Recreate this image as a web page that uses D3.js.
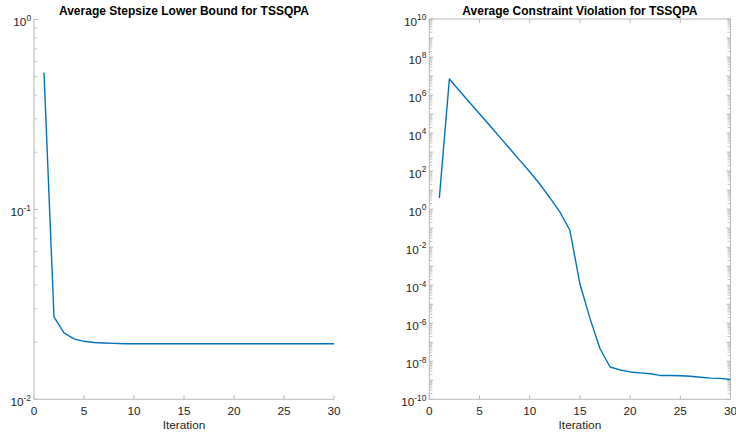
<!DOCTYPE html>
<html><head><meta charset="utf-8">
<script src="https://cdn.jsdelivr.net/npm/d3@7"></script>
<style>
html,body{margin:0;padding:0;background:#fff;}
text{font-family:"Liberation Sans",Arial,Helvetica,sans-serif;}
</style></head>
<body><svg id="c" width="736" height="434"></svg>
<script>
const iterations = [1,2,3,4,5,6,7,8,9,10,11,12,13,14,15,16,17,18,19,20,21,22,23,24,25,26,27,28,29,30];
const stepsizeLB = [0.525,0.0272,0.0224,0.0208,0.0202,0.0199,0.0198,0.0197,0.0196,0.0196,
  0.0196,0.0196,0.0196,0.0196,0.0196,0.0196,0.0196,0.0196,0.0196,0.0196,
  0.0196,0.0196,0.0196,0.0196,0.0196,0.0196,0.0196,0.0196,0.0196,0.0196];
const violation = [3.9,7e6,1.7e6,4.2e5,1.05e5,2.6e4,6.3e3,1.55e3,380,93,
  21,4.0,0.72,0.078,1.2e-4,1.8e-6,4.7e-8,5.0e-9,3.5e-9,2.75e-9,
  2.45e-9,2.2e-9,1.8e-9,1.78e-9,1.74e-9,1.62e-9,1.45e-9,1.3e-9,1.26e-9,1.1e-9];
const xTicks = [0,5,10,15,20,25,30];
const leftYTicks = [-2,-1,0];          // exponents
const rightYTicks = [-10,-8,-6,-4,-2,0,2,4,6,8,10];
const titles = ["Average Stepsize Lower Bound for TSSQPA","Average Constraint Violation for TSSQPA"];
const xLabel = "Iteration";

const svg = d3.select("#c");
const axisCol = "#b8b8b8", textCol = "#262626", lineCol = "#0072BD";
const fs = 11.8;

function panel(o){
  const g = svg.append("g");
  const x = d3.scaleLinear().domain([0,30]).range([o.left,o.right]);
  const y = d3.scaleLog().domain([Math.pow(10,o.yMin),Math.pow(10,o.yMax)]).range([o.bottom,o.top]);
  const minor=[];
  for(let e=o.yMin;e<o.yMax;e++) for(let k=2;k<=9;k++) minor.push(k*Math.pow(10,e));
  const majors=[]; for(let e=o.yMin;e<=o.yMax;e++) majors.push(Math.pow(10,e));
  const sides = o.box ? [o.left,o.right] : [o.left];
  sides.forEach(sx=>{
    const dir = sx===o.left?1:-1;
    g.selectAll(null).data(minor).enter().append("line")
      .attr("x1",sx).attr("x2",sx+dir*3).attr("y1",d=>y(d)).attr("y2",d=>y(d))
      .attr("stroke",axisCol).attr("stroke-width",0.8);
    g.selectAll(null).data(majors).enter().append("line")
      .attr("x1",sx).attr("x2",sx+dir*4).attr("y1",d=>y(d)).attr("y2",d=>y(d))
      .attr("stroke",axisCol).attr("stroke-width",1);
  });
  const xs = o.box ? [o.bottom,o.top] : [o.bottom];
  xs.forEach(sy=>{
    const dir = sy===o.bottom?-1:1;
    g.selectAll(null).data(xTicks).enter().append("line")
      .attr("x1",d=>x(d)).attr("x2",d=>x(d)).attr("y1",sy).attr("y2",sy+dir*4)
      .attr("stroke",axisCol).attr("stroke-width",1);
  });
  g.append("line").attr("x1",o.left).attr("x2",o.left).attr("y1",o.top).attr("y2",o.bottom).attr("stroke",axisCol);
  g.append("line").attr("x1",o.left).attr("x2",o.right).attr("y1",o.bottom).attr("y2",o.bottom).attr("stroke",axisCol);
  if(o.box){
    g.append("line").attr("x1",o.right).attr("x2",o.right).attr("y1",o.top).attr("y2",o.bottom).attr("stroke",axisCol);
    g.append("line").attr("x1",o.left).attr("x2",o.right).attr("y1",o.top).attr("y2",o.top).attr("stroke",axisCol);
  }
  g.selectAll(null).data(xTicks).enter().append("text")
    .attr("x",d=>x(d)).attr("y",o.bottom+16).attr("text-anchor","middle")
    .attr("font-size",fs).attr("fill",textCol).text(d=>d);
  o.labels.forEach(e=>{
    const t = g.append("text").attr("x",o.left-3).attr("y",y(Math.pow(10,e))+6.8)
      .attr("text-anchor","end").attr("font-size",fs).attr("fill",textCol);
    t.append("tspan").text("10");
    t.append("tspan").attr("dy",-5.5).attr("font-size",8.3).text(String(e));
  });
  g.append("text").attr("x",(o.left+o.right)/2).attr("y",o.bottom+29.5).attr("text-anchor","middle")
    .attr("font-size",fs).attr("fill",textCol).text(xLabel);
  g.append("text").attr("x",(o.left+o.right)/2).attr("y",15).attr("text-anchor","middle")
    .attr("font-size",12).attr("font-weight","bold").attr("fill","#000").text(o.title);
  const line = d3.line().x((d,i)=>x(iterations[i])).y(d=>y(d));
  g.append("path").datum(o.data).attr("d",line).attr("fill","none")
    .attr("stroke",lineCol).attr("stroke-width",1.4).attr("stroke-linejoin","round");
}

panel({left:34,right:334,top:19.5,bottom:399.3,yMin:-2,yMax:0,labels:leftYTicks,box:false,title:titles[0],data:stepsizeLB});
panel({left:429.3,right:730.5,top:19,bottom:399.3,yMin:-10,yMax:10,labels:rightYTicks,box:true,title:titles[1],data:violation});
</script></body></html>
